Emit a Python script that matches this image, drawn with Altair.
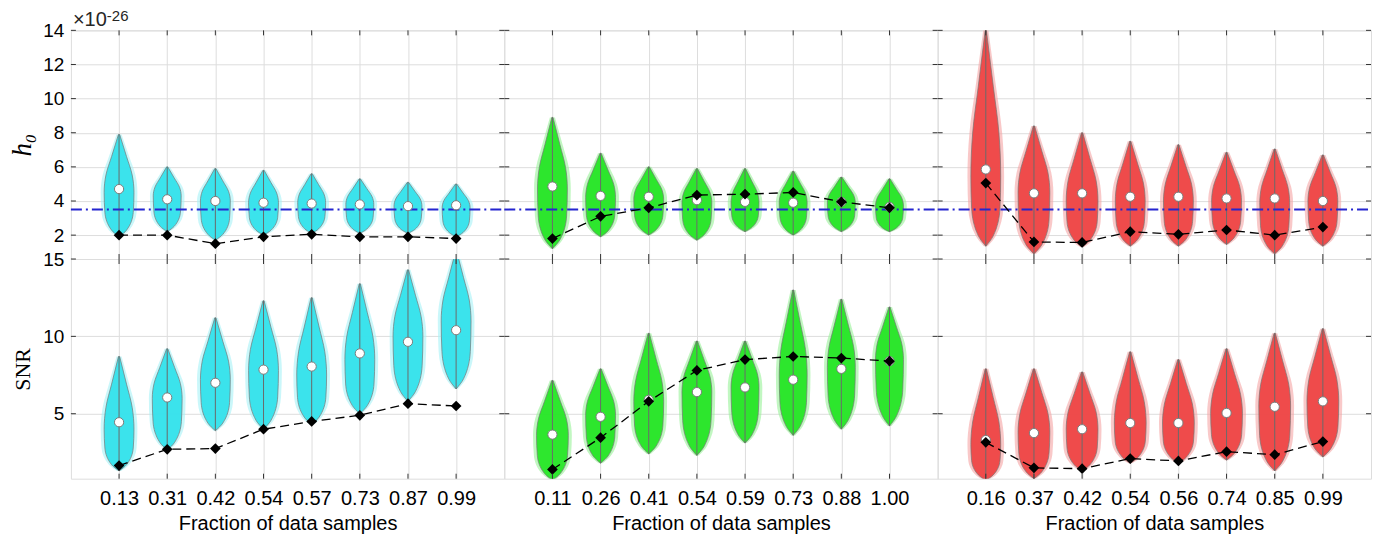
import altair as alt
import pandas as pd

# ---------------- data ----------------
POS = [1, 2, 3, 4, 5, 6, 7, 8]
H0_TRUE = 3.5
TOP_TICKS = [2, 4, 6, 8, 10, 12, 14]
BOT_TICKS = [5, 10, 15]

# column 1 (cyan)
A_LABELS = ["0.13", "0.31", "0.42", "0.54", "0.57", "0.73", "0.87", "0.99"]
A_H0_LO = [1.9, 2.2, 1.7, 2.0, 2.1, 2.1, 2.1, 1.9]
A_H0_HI = [7.9, 6.0, 5.9, 5.8, 5.6, 5.3, 5.1, 5.0]
A_H0_PK = [4.5, 4.3, 4.0, 3.9, 3.9, 3.8, 3.7, 3.6]
A_H0_W = [0.31, 0.29, 0.31, 0.31, 0.29, 0.29, 0.29, 0.29]
A_H0_MED = [4.7, 4.1, 4.0, 3.9, 3.85, 3.8, 3.7, 3.75]
A_H0_MIN = [2.0, 2.0, 1.5, 1.9, 2.05, 1.9, 1.9, 1.8]

A_SNR_LO = [1.3, 2.65, 3.9, 4.0, 4.3, 5.0, 5.8, 6.6]
A_SNR_HI = [8.7, 9.2, 11.2, 12.3, 12.5, 13.4, 14.3, 15.5]
A_SNR_PK = [4.0, 6.0, 7.2, 7.8, 7.5, 8.5, 10.0, 11.0]
A_SNR_W = [0.31, 0.31, 0.31, 0.31, 0.31, 0.31, 0.31, 0.31]
A_SNR_MED = [4.45, 6.05, 7.0, 7.85, 8.05, 8.9, 9.65, 10.4]
A_SNR_MIN = [1.65, 2.7, 2.75, 4.0, 4.5, 4.9, 5.65, 5.5]

# column 2 (green)
B_LABELS = ["0.11", "0.26", "0.41", "0.54", "0.59", "0.73", "0.88", "1.00"]
B_H0_LO = [1.2, 1.9, 2.0, 1.7, 2.2, 2.0, 2.2, 2.2]
B_H0_HI = [8.9, 6.8, 6.0, 5.9, 5.9, 5.75, 5.4, 5.3]
B_H0_PK = [4.7, 4.2, 4.1, 3.9, 3.9, 3.9, 3.9, 3.7]
B_H0_W = [0.31, 0.31, 0.31, 0.31, 0.29, 0.29, 0.29, 0.29]
B_H0_MED = [4.85, 4.3, 4.25, 4.05, 3.95, 3.9, 3.95, 3.65]
B_H0_MIN = [1.8, 3.1, 3.6, 4.35, 4.4, 4.5, 3.95, 3.6]

B_SNR_LO = [0.7, 1.8, 2.4, 2.3, 3.1, 3.6, 4.0, 4.2]
B_SNR_HI = [7.15, 7.9, 10.2, 9.7, 9.7, 13.0, 12.4, 11.9]
B_SNR_PK = [3.6, 4.9, 5.8, 6.4, 6.7, 7.5, 8.0, 8.5]
B_SNR_W = [0.33, 0.31, 0.31, 0.31, 0.29, 0.29, 0.29, 0.29]
B_SNR_MED = [3.65, 4.8, 5.9, 6.4, 6.7, 7.2, 7.9, 8.4]
B_SNR_MIN = [1.4, 3.45, 5.8, 7.8, 8.5, 8.7, 8.6, 8.4]

# column 3 (red)
C_LABELS = ["0.16", "0.37", "0.42", "0.54", "0.56", "0.74", "0.85", "0.99"]
C_H0_LO = [1.35, 0.9, 1.3, 1.35, 1.35, 1.45, 0.9, 1.35]
C_H0_HI = [14.0, 8.4, 8.0, 7.5, 7.3, 6.85, 7.05, 6.7]
C_H0_PK = [5.4, 4.5, 4.0, 4.0, 4.0, 4.0, 3.9, 4.0]
C_H0_W = [0.31, 0.33, 0.33, 0.31, 0.31, 0.31, 0.31, 0.31]
C_H0_MED = [5.85, 4.45, 4.45, 4.25, 4.25, 4.15, 4.15, 4.0]
C_H0_MIN = [5.05, 1.6, 1.57, 2.2, 2.05, 2.3, 2.0, 2.47]

C_SNR_LO = [0.7, 0.8, 1.3, 1.8, 1.8, 2.0, 1.3, 2.2]
C_SNR_HI = [7.9, 7.9, 7.7, 9.0, 8.5, 9.2, 10.2, 10.5]
C_SNR_PK = [3.0, 3.8, 4.0, 4.4, 4.4, 5.0, 5.5, 5.8]
C_SNR_W = [0.31, 0.33, 0.33, 0.33, 0.33, 0.33, 0.33, 0.33]
C_SNR_MED = [3.3, 3.75, 4.0, 4.4, 4.4, 5.05, 5.45, 5.8]
C_SNR_MIN = [3.15, 1.5, 1.45, 2.1, 1.95, 2.55, 2.35, 3.2]

# ---------------- style ----------------
W = 434
H_TOP = 229
H_BOT = 220
FILL = {"c": "#34e2ec", "g": "#26e626", "r": "#ef4545"}
GLOW = {"c": "#a6f2f6", "g": "#98f298", "r": "#f5a5a5"}
# violin outline template: (segment, fraction along segment, fraction of max half-width)
SHAPE = [("lo", 0.0, 0.0), ("lo", 0.15, 0.5), ("lo", 0.55, 0.95), ("pk", 0.0, 1.0),
         ("hi", 0.3, 0.88), ("hi", 0.62, 0.5), ("hi", 1.0, 0.04)]
FONT = "Liberation Sans"


def violin_df(lo, hi, pk, hw):
    rows = []
    for i, (a, b, c, w) in enumerate(zip(lo, hi, pk, hw)):
        p = POS[i]
        for seg, f, wf in SHAPE:
            if seg == "lo":
                y = a + f * (c - a)
            elif seg == "pk":
                y = c
            else:
                y = c + f * (b - c)
            g = w * wf * 1.1 + 0.04
            rows.append({"vid": i, "y": y, "xl": p - w * wf, "xr": p + w * wf,
                         "gl": p - g, "gr": p + g})
    return pd.DataFrame(rows)


def panel(lo, hi, pk, hw, med, mn, labels, row, col, ckey):
    H = H_TOP if row == 0 else H_BOT
    ydom = [0.6, 14] if row == 0 else [0.8, 15]
    yticks = TOP_TICKS if row == 0 else BOT_TICKS
    xs = alt.Scale(domain=[0, 9], nice=False, zero=False)
    ys = alt.Scale(domain=ydom, nice=False, zero=False)
    if row == 1:
        lab = "[" + ",".join("'%s'" % s for s in labels) + "][datum.value-1]"
        xaxis = alt.Axis(values=POS, labelExpr=lab, title="Fraction of data samples",
                         grid=True, ticks=False, domain=False, labelFontSize=20,
                         titleFontSize=20, labelPadding=10, titlePadding=5,
                         titleFontWeight="normal")
    else:
        xaxis = alt.Axis(values=POS, labels=False, title=None, grid=True,
                         ticks=False, domain=False)
    if col == 0:
        if row == 0:
            yaxis = alt.Axis(values=yticks, title="h₀", titleFont="Liberation Serif",
                             titleFontStyle="italic", titleFontSize=27,
                             titleFontWeight="normal", labelFontSize=19,
                             labelPadding=7, titlePadding=6, grid=True, ticks=False,
                             domain=False)
        else:
            yaxis = alt.Axis(values=yticks, title="SNR", titleFont="Liberation Serif",
                             titleFontSize=22, titleFontWeight="normal",
                             labelFontSize=19, labelPadding=7, titlePadding=8,
                             grid=True, ticks=False, domain=False)
    else:
        yaxis = alt.Axis(values=yticks, labels=False, title=None, grid=True,
                         ticks=False, domain=False)

    def X(f):
        return alt.X(f, type="quantitative", scale=xs, axis=xaxis)

    def Y(f):
        return alt.Y(f, type="quantitative", scale=ys, axis=yaxis)

    vdf = violin_df(lo, hi, pk, hw)
    pdf = pd.DataFrame({"x": POS, "lo": lo, "hi": hi, "med": med, "mn": mn})

    glow = alt.Chart(vdf).mark_area(orient="horizontal", interpolate="monotone",
                                    clip=True, color=GLOW[ckey], opacity=0.6).encode(
        y=Y("y"), x=X("gl"), x2="gr", detail="vid:N")
    body = alt.Chart(vdf).mark_area(orient="horizontal", interpolate="monotone",
                                    clip=True, color=FILL[ckey], opacity=0.95,
                                    stroke="#707070", strokeWidth=0.7).encode(
        y=Y("y"), x=X("xl"), x2="xr", detail="vid:N")
    whisk = alt.Chart(pdf).mark_rule(color="#6a6a6a", strokeWidth=1, clip=True).encode(
        x=X("x"), y=Y("lo"), y2="hi")
    meds = alt.Chart(pdf).mark_point(shape="circle", filled=True, fill="white",
                                     stroke="#7a7a7a", strokeWidth=1, opacity=1,
                                     size=85).encode(x=X("x"), y=Y("med"))
    dline = alt.Chart(pdf).mark_line(color="black", strokeDash=[9, 5],
                                     strokeWidth=1.3).encode(x=X("x"), y=Y("mn"))
    dia = alt.Chart(pdf).mark_point(shape="diamond", filled=True, color="black",
                                    opacity=1, size=115).encode(x=X("x"), y=Y("mn"))

    xt = pd.DataFrame({"x": POS})
    yt = pd.DataFrame({"y": yticks})
    tk_top = alt.Chart(xt).mark_rule(color="#333333").encode(
        x=X("x"), y=alt.value(0), y2=alt.value(5))
    tk_bot = alt.Chart(xt).mark_rule(color="#333333").encode(
        x=X("x"), y=alt.value(H), y2=alt.value(H - 5))
    tk_l = alt.Chart(yt).mark_rule(color="#333333").encode(
        y=Y("y"), x=alt.value(0), x2=alt.value(5))
    tk_r = alt.Chart(yt).mark_rule(color="#333333").encode(
        y=Y("y"), x=alt.value(W - 5), x2=alt.value(W))

    layers = [glow, body, whisk]
    if row == 0:
        blue = alt.Chart(pd.DataFrame({"y": [H0_TRUE]})).mark_rule(
            color="#2525cf", strokeDash=[11, 4, 2, 4], strokeWidth=2).encode(
            y=Y("y"), x=alt.value(0), x2=alt.value(W))
        layers.append(blue)
    layers += [meds, dline, dia, tk_top, tk_bot, tk_l, tk_r]
    if row == 0 and col == 0:
        t1 = alt.Chart(pd.DataFrame({"t": ["×10"]})).mark_text(
            align="left", baseline="alphabetic", fontSize=20, font=FONT,
            color="#262626").encode(text="t:N", x=alt.value(2), y=alt.value(-4))
        t2 = alt.Chart(pd.DataFrame({"t": ["-26"]})).mark_text(
            align="left", baseline="top", fontSize=15, font=FONT,
            color="#262626").encode(text="t:N", x=alt.value(36), y=alt.value(-21))
        layers += [t1, t2]
    return alt.layer(*layers).properties(width=W, height=H)


panels = [
    panel(A_H0_LO, A_H0_HI, A_H0_PK, A_H0_W, A_H0_MED, A_H0_MIN, A_LABELS, 0, 0, "c"),
    panel(B_H0_LO, B_H0_HI, B_H0_PK, B_H0_W, B_H0_MED, B_H0_MIN, B_LABELS, 0, 1, "g"),
    panel(C_H0_LO, C_H0_HI, C_H0_PK, C_H0_W, C_H0_MED, C_H0_MIN, C_LABELS, 0, 2, "r"),
    panel(A_SNR_LO, A_SNR_HI, A_SNR_PK, A_SNR_W, A_SNR_MED, A_SNR_MIN, A_LABELS, 1, 0, "c"),
    panel(B_SNR_LO, B_SNR_HI, B_SNR_PK, B_SNR_W, B_SNR_MED, B_SNR_MIN, B_LABELS, 1, 1, "g"),
    panel(C_SNR_LO, C_SNR_HI, C_SNR_PK, C_SNR_W, C_SNR_MED, C_SNR_MIN, C_LABELS, 1, 2, "r"),
]

chart = alt.concat(*panels, columns=3, spacing=0, bounds="flush").properties(
    padding={"left": 0, "top": 0, "right": 5, "bottom": 5}
).configure_view(
    stroke="#555555", strokeWidth=1
).configure_axis(
    labelFont=FONT, titleFont=FONT, labelColor="#262626", titleColor="#262626",
    gridColor="#e2e2e2", gridWidth=1
).configure(background="white")

chart.save("out.html", embed_options={"renderer": "svg", "actions": False})
